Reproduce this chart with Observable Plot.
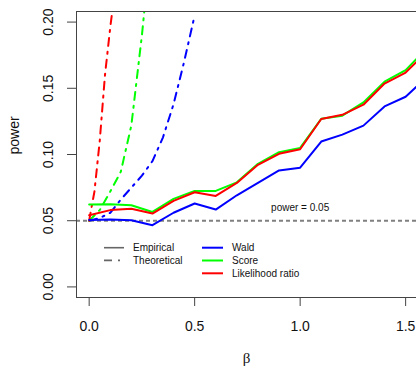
<!DOCTYPE html>
<html><head><meta charset="utf-8">
<script src="https://cdn.jsdelivr.net/npm/d3@7"></script>
<script src="https://cdn.jsdelivr.net/npm/@observablehq/plot@0.6"></script>
<style>body{margin:0;background:#fff} svg{display:block}</style>
</head><body><div id="chart"></div>
<script>
// Empirical power (simulated)
const betaEmp  = [0, 0.1, 0.2, 0.3, 0.4, 0.5, 0.6, 0.7, 0.8, 0.9, 1.0, 1.1, 1.2, 1.3, 1.4, 1.5, 1.6];
const waldEmp  = [0.0505, 0.051, 0.0504, 0.0466, 0.056, 0.063, 0.0584, 0.0692, 0.0785, 0.088, 0.090, 0.1098, 0.115, 0.1218, 0.1363, 0.1436, 0.1584];
const scoreEmp = [0.0622, 0.0624, 0.0617, 0.0566, 0.0665, 0.0725, 0.0725, 0.079, 0.093, 0.1017, 0.105, 0.127, 0.1293, 0.1393, 0.155, 0.1637, 0.1803];
const lrEmp    = [0.0541, 0.058, 0.059, 0.0554, 0.065, 0.0715, 0.0687, 0.0785, 0.0922, 0.1005, 0.104, 0.1268, 0.130, 0.1376, 0.1536, 0.1619, 0.1776];

// Theoretical power
const betaWaldTh  = [0, 0.05, 0.1, 0.15, 0.2, 0.25, 0.3, 0.35, 0.4, 0.45, 0.5];
const waldTh      = [0.05, 0.052, 0.056, 0.066, 0.075, 0.084, 0.095, 0.113, 0.138, 0.17, 0.205];
const betaScoreTh = [0, 0.05, 0.1, 0.15, 0.2, 0.25, 0.3];
const scoreTh     = [0.05, 0.058, 0.072, 0.087, 0.122, 0.19, 0.27];
const betaLrTh    = [0, 0.01, 0.025, 0.05, 0.075, 0.1, 0.125];
const lrTh        = [0.05, 0.059, 0.072, 0.11, 0.16, 0.196, 0.228];

const tests  = ["Wald", "Score", "Likelihood ratio"];
const colors = ["#0000ff", "#00ff00", "#ff0000"];
const xTicks = [0, 0.5, 1, 1.5];
const yTicks = [0, 0.05, 0.1, 0.15, 0.2];
const xDomain = [-0.06, 1.5515];
const yDomain = [-0.008, 0.208];
const alpha = 0.05;
const annot = [{beta: 1, power: 0.06, label: "power = 0.05"}];

const emp = [];
[waldEmp, scoreEmp, lrEmp].forEach((arr, i) => arr.forEach((v, j) => emp.push({test: tests[i], beta: betaEmp[j], power: v})));
const th = [];
[[betaWaldTh, waldTh], [betaScoreTh, scoreTh], [betaLrTh, lrTh]].forEach(([bs, ps], i) =>
  ps.forEach((v, j) => th.push({test: tests[i], beta: bs[j], power: v})));

const axisCol = "#444";
const dashDot = "8,6,2,6";
const chart = Plot.plot({
  width: 416, height: 366,
  marginLeft: 76, marginRight: 0, marginTop: 11, marginBottom: 69,
  style: {fontFamily: "Liberation Sans, Arial, sans-serif", color: "#000", background: "#fff"},
  x: {domain: xDomain},
  y: {domain: yDomain},
  color: {domain: tests, range: colors},
  marks: [
    Plot.ruleY([alpha], {stroke: "#808080", strokeWidth: 2, strokeDasharray: "4,3"}),
    Plot.line(th, {x: "beta", y: "power", z: "test", stroke: "test", strokeWidth: 2, strokeDasharray: dashDot, clip: true}),
    Plot.line(emp, {x: "beta", y: "power", z: "test", stroke: "test", strokeWidth: 2, clip: true}),
    Plot.ruleY([yDomain[1]], {stroke: axisCol}),
    Plot.ruleY([yDomain[0]], {stroke: axisCol}),
    Plot.ruleX([xDomain[0]], {stroke: axisCol}),
    Plot.axisX({ticks: xTicks, tickSize: 9, tickFormat: () => "", label: null, stroke: axisCol}),
    Plot.axisY({ticks: yTicks, tickSize: 9, tickFormat: () => "", label: null, stroke: axisCol}),
    Plot.text(xTicks, {x: d => d, text: d => d3.format(".1f")(d), frameAnchor: "bottom", dy: 29, fontSize: 14, lineAnchor: "middle", fill: "#111"}),
    Plot.text(yTicks, {y: d => d, text: d => d3.format(".2f")(d), frameAnchor: "left", dx: -28, rotate: -90, fontSize: 14, lineAnchor: "middle", textAnchor: "middle", fill: "#111"}),
    Plot.text(["power"], {frameAnchor: "left", dx: -62, rotate: -90, fontSize: 14, lineAnchor: "middle", fill: "#111"}),
    Plot.text(["β"], {frameAnchor: "bottom", dy: 61, fontSize: 15, lineAnchor: "middle", fontFamily: "Liberation Serif, serif", fill: "#111"}),
    Plot.text(annot, {x: "beta", y: "power", text: "label", fontSize: 10, lineAnchor: "middle", fill: "#111"})
  ]
});
document.getElementById("chart").appendChild(chart);

// Legends
const svg = d3.select(chart);
const g = svg.append("g").attr("font-family", "Liberation Sans, Arial, sans-serif").attr("font-size", 10)
  .attr("fill", "#111").attr("text-anchor", "start");
const leg1 = [{label: "Empirical", dash: null}, {label: "Theoretical", dash: dashDot}];
leg1.forEach((d, i) => {
  const y = 247.7 + i * 12.7;
  g.append("line").attr("x1", 104).attr("x2", 124).attr("y1", y).attr("y2", y)
    .attr("stroke", "#666").attr("stroke-width", 1.6).attr("stroke-dasharray", d.dash);
  g.append("text").attr("x", 133).attr("y", y).attr("dy", "0.35em").attr("text-anchor", "start").text(d.label);
});
tests.forEach((t, i) => {
  const y = 247.7 + i * 12.8;
  g.append("line").attr("x1", 202).attr("x2", 223).attr("y1", y).attr("y2", y)
    .attr("stroke", colors[i]).attr("stroke-width", 2);
  g.append("text").attr("x", 232).attr("y", y).attr("dy", "0.35em").attr("text-anchor", "start").text(t);
});
</script>
</body></html>
